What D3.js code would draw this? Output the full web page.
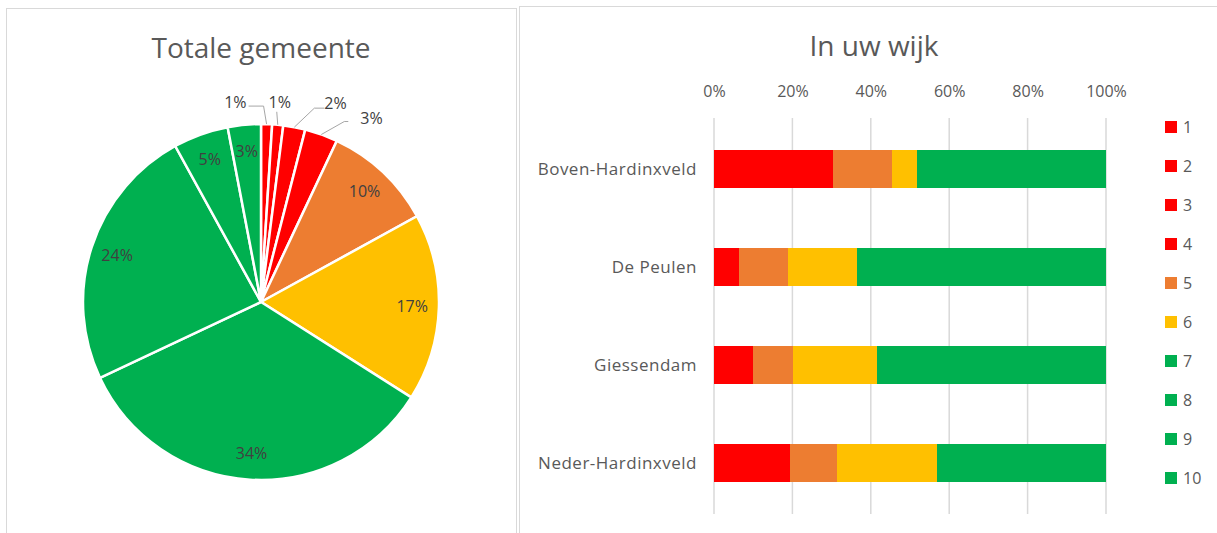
<!DOCTYPE html>
<html>
<head>
<meta charset="utf-8">
<script src="https://cdn.jsdelivr.net/npm/d3@7"></script>
<style>
  body { margin: 0; background: #fff; }
  text { font-family: "Open Sans", sans-serif; fill: #595959; }
</style>
</head>
<body>
<div id="chart-area"></div>
<script>

// Data

let scores = ["1", "2", "3", "4", "5", "6", "7", "8", "9", "10"];
let colors = ["#FF0000", "#FF0000", "#FF0000", "#FF0000", "#ED7D31", "#FFC000",
              "#00B050", "#00B050", "#00B050", "#00B050"];

// pie: whole municipality, percent per score
let totalPct = [1, 1, 2, 3, 10, 17, 34, 24, 5, 3];

// bars: per district, percent per score
let districts = ["Boven-Hardinxveld", "De Peulen", "Giessendam", "Neder-Hardinxveld"];
let s1  = [4, 1, 1, 3];
let s2  = [5, 1, 2, 3];
let s3  = [9, 2, 3, 6];
let s4  = [12.4, 2.5, 4, 7.4];
let s5  = [15.1, 12.4, 10.2, 11.9];
let s6  = [6.2, 17.7, 21.3, 25.7];
let s7  = [19, 28, 26, 20];
let s8  = [18, 22, 21, 14];
let s9  = [7, 8, 7, 5];
let s10 = [4.3, 5.4, 4.5, 4];
let seriesValues = [s1, s2, s3, s4, s5, s6, s7, s8, s9, s10];

let tickValues = [0, 0.2, 0.4, 0.6, 0.8, 1];

let W = 1217, H = 533;

let svg = d3.select("#chart-area").append("svg")
    .attr("width", W)
    .attr("height", H);

// panel frames
svg.append("rect").attr("x", 6.5).attr("y", 8.5).attr("width", 510).attr("height", 540)
    .attr("fill", "none").attr("stroke", "#d9d9d9");
svg.append("rect").attr("x", 519.5).attr("y", 6.5).attr("width", 710).attr("height", 540)
    .attr("fill", "none").attr("stroke", "#d9d9d9");


// ---------- Pie ----------

let cx = 261, cy = 302, r = 178;

let pieG = svg.append("g")
    .attr("transform", "translate(" + cx + "," + cy + ")");

let pie = d3.pie().sort(null).value(d => d);
let arcs = pie(totalPct);

let arc = d3.arc().innerRadius(0).outerRadius(r);
let labelArc = d3.arc().innerRadius(r * 0.85).outerRadius(r * 0.85);
let edgeArc = d3.arc().innerRadius(r).outerRadius(r);

pieG.selectAll("path.slice")
    .data(arcs)
    .enter().append("path")
    .attr("class", "slice")
    .attr("d", arc)
    .attr("fill", (d, i) => colors[i])
    .attr("stroke", "#fff")
    .attr("stroke-width", 2.5);

// small slices get outside labels with leader lines
let outside = [0, 1, 2, 3];
let outOffsets = [[-34, -22], [2, -22], [32, -24], [41, -16]];

pieG.selectAll("text.inlabel")
    .data(arcs.filter((d, i) => outside.indexOf(i) < 0))
    .enter().append("text")
    .attr("class", "inlabel")
    .attr("transform", d => "translate(" + labelArc.centroid(d) + ")")
    .attr("text-anchor", "middle")
    .attr("dy", "0.35em")
    .style("font-size", "16px")
    .style("fill", "#404040")
    .text(d => d.data + "%");

outside.forEach(function(i, k) {
  let d = arcs[i];
  let p = edgeArc.centroid(d);
  let off = outOffsets[k];
  let lx = p[0] + off[0], ly = p[1] + off[1];
  let pts;
  if (k == 0) pts = [p, [p[0] - 3, ly + 4], [lx + 16, ly + 4]];
  else if (k == 1) pts = [p, [p[0] - 1, ly + 9]];
  else if (k == 2) pts = [p, [lx - 12, ly + 5], [lx - 2, ly + 5]];
  else pts = [p, [lx - 18, ly + 3], [lx - 14, ly + 3]];
  pieG.append("path")
    .attr("d", d3.line()(pts))
    .attr("fill", "none")
    .attr("stroke", "#a6a6a6")
    .attr("stroke-width", 1);
  pieG.append("text")
    .attr("x", lx)
    .attr("y", ly)
    .attr("text-anchor", k == 0 ? "end" : (k == 1 ? "middle" : "start"))
    .attr("dx", k == 0 ? 14 : (k == 1 ? 0 : -2))
    .attr("dy", "0.35em")
    .style("font-size", "16px")
    .style("fill", "#404040")
    .text(d.data + "%");
});

svg.append("text")
    .attr("x", cx)
    .attr("y", 58)
    .attr("text-anchor", "middle")
    .style("font-size", "28px")
    .text("Totale gemeente");


// ---------- Stacked bars ----------

let x = d3.scaleLinear().domain([0, 1]).range([714, 1106]);
let y = d3.scaleBand().domain(districts).range([120, 512]).paddingInner(0.61).paddingOuter(0.305);

// gridlines
svg.selectAll("line.grid")
    .data(tickValues)
    .enter().append("line")
    .attr("class", "grid")
    .attr("x1", d => x(d)).attr("x2", d => x(d))
    .attr("y1", 118).attr("y2", 514)
    .attr("stroke", "#d9d9d9")
    .attr("stroke-width", 1.5);

// top axis
let xAxis = d3.axisTop(x)
    .tickValues(tickValues)
    .tickFormat(d3.format(".0%"))
    .tickSize(0);

let xAxisG = svg.append("g")
    .attr("class", "x-axis axis")
    .attr("transform", "translate(0,100)")
    .call(xAxis);
xAxisG.select(".domain").remove();
xAxisG.selectAll("text")
    .style("font-family", "Open Sans, sans-serif")
    .style("font-size", "16px")
    .style("fill", "#595959");

// category labels
svg.selectAll("text.cat")
    .data(districts)
    .enter().append("text")
    .attr("class", "cat")
    .attr("x", 697)
    .attr("y", d => y(d) + y.bandwidth() / 2)
    .attr("dy", "0.35em")
    .attr("text-anchor", "end")
    .style("font-size", "17px")
    .style("letter-spacing", "0.5px")
    .text(d => d);

// stack
let table = districts.map(function(name, j) {
  let row = {district: name};
  scores.forEach((s, i) => { row[s] = seriesValues[i][j] / 100; });
  return row;
});

let stacked = d3.stack().keys(scores)(table);

svg.selectAll("g.layer")
    .data(stacked)
    .enter().append("g")
    .attr("class", "layer")
    .attr("fill", (d, i) => colors[i])
  .selectAll("rect")
    .data(d => d)
    .enter().append("rect")
    .attr("x", d => x(d[0]))
    .attr("y", d => y(d.data.district))
    .attr("width", d => x(d[1]) - x(d[0]))
    .attr("height", y.bandwidth())
    .attr("shape-rendering", "crispEdges");

svg.append("text")
    .attr("x", 874)
    .attr("y", 56)
    .attr("text-anchor", "middle")
    .style("font-size", "28px")
    .text("In uw wijk");

// legend
let legend = svg.selectAll("g.legend")
    .data(scores)
    .enter().append("g")
    .attr("class", "legend")
    .attr("transform", (d, i) => "translate(1165," + (127 + i * 39) + ")");

legend.append("rect")
    .attr("x", 0).attr("y", -6)
    .attr("width", 12).attr("height", 12)
    .attr("fill", (d, i) => colors[i]);

legend.append("text")
    .attr("x", 18)
    .attr("dy", "0.35em")
    .style("font-size", "16px")
    .text(d => d);

</script>
</body>
</html>
